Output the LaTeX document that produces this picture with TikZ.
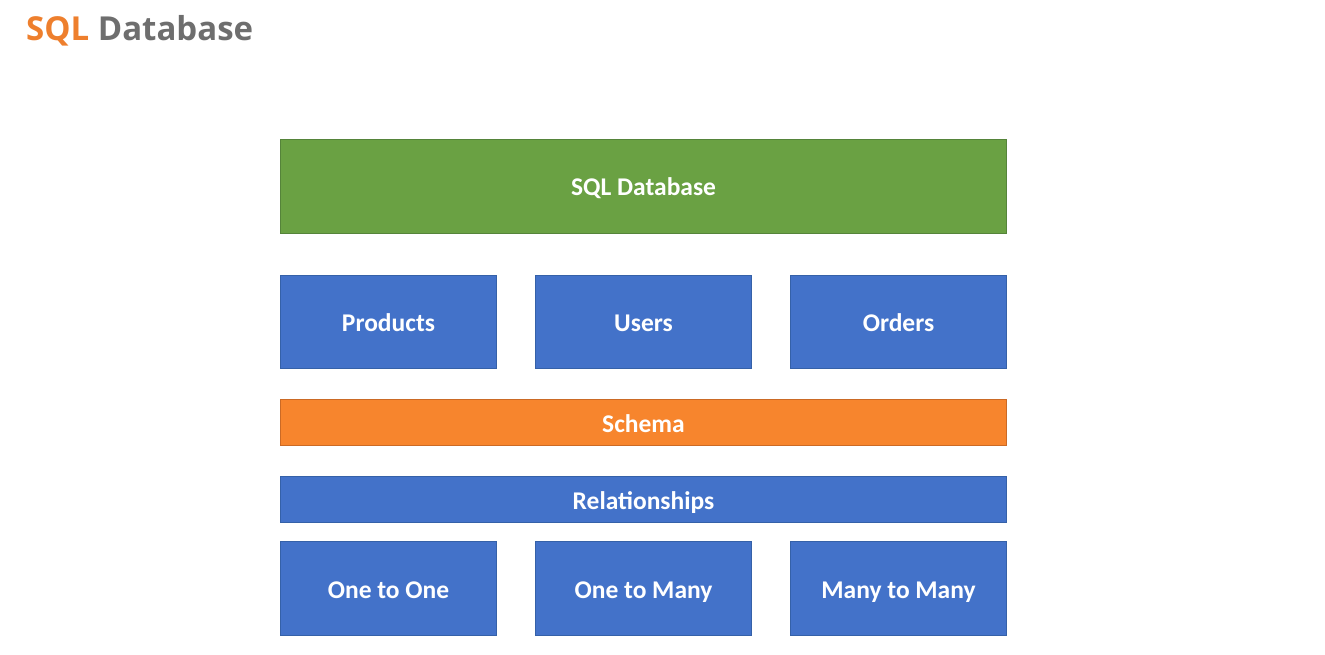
\documentclass[tikz,border=0pt]{standalone}
\usepackage{fontspec}
\setmainfont{Carlito}
\newfontfamily\titlefont{Open Sans}
\definecolor{dbgreen}{HTML}{6AA143}
\definecolor{dbgreenb}{HTML}{55843A}
\definecolor{dbblue}{HTML}{4372C9}
\definecolor{dbblueb}{HTML}{3561A8}
\definecolor{dborange}{HTML}{F7852D}
\definecolor{dborangeb}{HTML}{CB6A25}
\definecolor{ttlorange}{HTML}{EE7F2D}
\definecolor{ttlgray}{HTML}{6E6E6E}
\tikzset{
  box/.style={draw=#1b, fill=#1, line width=1pt, text=white, font=\bfseries\fontsize{25.5}{30}\selectfont, inner sep=0pt, text height=19pt, text depth=0pt, anchor=north west},
}
\begin{document}
\begin{tikzpicture}[x=1pt,y=-1pt]
\useasboundingbox (0,0) rectangle (1325,655);
\fill[white] (0,0) rectangle (1325,655);
\node[anchor=west, inner sep=0pt, font=\titlefont\bfseries\fontsize{33}{38}\selectfont] (title) at (26,31) {\textcolor{ttlorange}{SQL} \textcolor{ttlgray}{Database}};
\node[box=dbgreen, minimum width=726pt, minimum height=94pt] (db) at (280,139) {SQL Database};
\node[box=dbblue, minimum width=216pt, minimum height=93pt] (products) at (280,275) {Products};
\node[box=dbblue, minimum width=216pt, minimum height=93pt] (users) at (535,275) {Users};
\node[box=dbblue, minimum width=216pt, minimum height=93pt] (orders) at (790,275) {Orders};
\node[box=dborange, minimum width=726pt, minimum height=46pt] (schema) at (280,399) {Schema};
\node[box=dbblue, minimum width=726pt, minimum height=46pt] (rel) at (280,476) {Relationships};
\node[box=dbblue, minimum width=216pt, minimum height=94pt] (oo) at (280,541) {One to One};
\node[box=dbblue, minimum width=216pt, minimum height=94pt] (om) at (535,541) {One to Many};
\node[box=dbblue, minimum width=216pt, minimum height=94pt] (mm) at (790,541) {Many to Many};
\end{tikzpicture}
\end{document}
